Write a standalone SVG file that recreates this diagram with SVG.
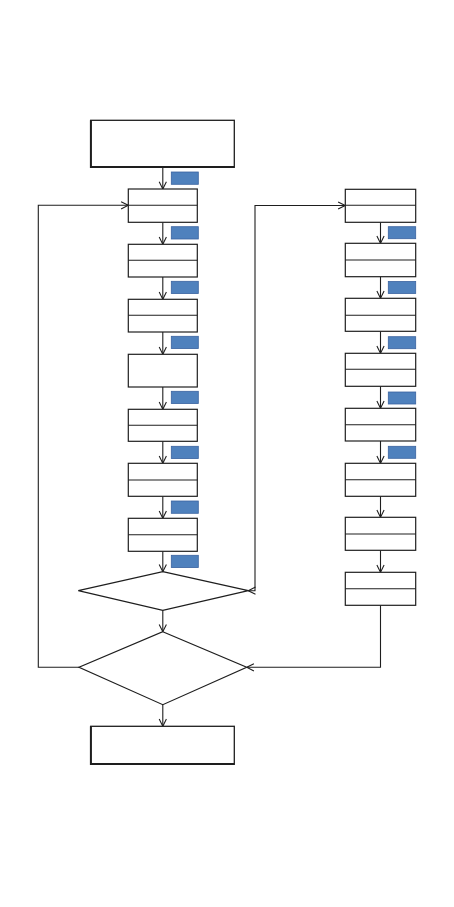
<svg xmlns="http://www.w3.org/2000/svg" width="454" height="907" viewBox="0 0 454 907">
<style>
.box{fill:#fff;stroke:#1e1e1e;stroke-width:1.2}
.big{fill:#fff;stroke:#1e1e1e;stroke-width:1.3}
.edge{fill:none;stroke:#1e1e1e;stroke-width:2}
.div{stroke:#1e1e1e;stroke-width:1.1}
.tag{fill:#4f81bd;stroke:#3a63a0;stroke-width:0.8}
.c{fill:none;stroke:#1e1e1e;stroke-width:1.1}
</style>
<defs>
<marker id="arr" viewBox="0 0 10 10" refX="10" refY="5" markerWidth="9" markerHeight="9" markerUnits="userSpaceOnUse" orient="auto-start-reverse">
<path d="M2,1 L10,5 L2,9" fill="none" stroke="#1e1e1e" stroke-width="1.2"/>
</marker>
</defs>
<rect width="454" height="907" fill="#fff"/>
<g id="connectors">
<line class="c" x1="162.8" y1="167.3" x2="162.8" y2="189" marker-end="url(#arr)"/>
<line class="c" x1="162.8" y1="222.3" x2="162.8" y2="244.3" marker-end="url(#arr)"/>
<line class="c" x1="162.8" y1="277" x2="162.8" y2="299.3" marker-end="url(#arr)"/>
<line class="c" x1="162.8" y1="332" x2="162.8" y2="354.3" marker-end="url(#arr)"/>
<line class="c" x1="162.8" y1="387" x2="162.8" y2="409.3" marker-end="url(#arr)"/>
<line class="c" x1="162.8" y1="441.3" x2="162.8" y2="463.3" marker-end="url(#arr)"/>
<line class="c" x1="162.8" y1="496.3" x2="162.8" y2="518.3" marker-end="url(#arr)"/>
<line class="c" x1="162.8" y1="551.3" x2="162.8" y2="571.7" marker-end="url(#arr)"/>
<line class="c" x1="162.8" y1="610.3" x2="162.8" y2="631.7" marker-end="url(#arr)"/>
<line class="c" x1="162.8" y1="704.7" x2="162.8" y2="726.3" marker-end="url(#arr)"/>
<line class="c" x1="380.5" y1="222.3" x2="380.5" y2="243.3" marker-end="url(#arr)"/>
<line class="c" x1="380.5" y1="276.7" x2="380.5" y2="298.3" marker-end="url(#arr)"/>
<line class="c" x1="380.5" y1="331.3" x2="380.5" y2="353.3" marker-end="url(#arr)"/>
<line class="c" x1="380.5" y1="386.3" x2="380.5" y2="408.3" marker-end="url(#arr)"/>
<line class="c" x1="380.5" y1="441" x2="380.5" y2="463.3" marker-end="url(#arr)"/>
<line class="c" x1="380.5" y1="496.3" x2="380.5" y2="517.3" marker-end="url(#arr)"/>
<line class="c" x1="380.5" y1="550.3" x2="380.5" y2="572.3" marker-end="url(#arr)"/>
<polyline class="c" points="79,667.3 38.3,667.3 38.3,205.3 128.3,205.3" marker-end="url(#arr)"/>
<polyline class="c" points="248.3,590.7 255,590.7 255,205.5 345.3,205.5" marker-start="url(#arr)" marker-end="url(#arr)"/>
<polyline class="c" points="380.5,605.3 380.5,667.3 246.7,667.3" marker-end="url(#arr)"/>
</g>
<g id="start"><rect class="big" x="90.7" y="120.3" width="143.6" height="47"/><polyline class="edge" points="90.9,120.3 90.9,167.1 234.3,167.1"/></g>
<g id="L1"><rect class="box" x="128.3" y="189" width="69" height="33.3"/><line class="div" x1="128.3" y1="205.3" x2="197.3" y2="205.3"/></g>
<g id="L2"><rect class="box" x="128.3" y="244.3" width="69" height="32.7"/><line class="div" x1="128.3" y1="260.3" x2="197.3" y2="260.3"/></g>
<g id="L3"><rect class="box" x="128.3" y="299.3" width="69" height="32.7"/><line class="div" x1="128.3" y1="315.3" x2="197.3" y2="315.3"/></g>
<g id="L4"><rect class="box" x="128.3" y="354.3" width="69" height="32.7"/></g>
<g id="L5"><rect class="box" x="128.3" y="409.3" width="69" height="32"/><line class="div" x1="128.3" y1="425.3" x2="197.3" y2="425.3"/></g>
<g id="L6"><rect class="box" x="128.3" y="463.3" width="69" height="33"/><line class="div" x1="128.3" y1="480" x2="197.3" y2="480"/></g>
<g id="L7"><rect class="box" x="128.3" y="518.3" width="69" height="33"/><line class="div" x1="128.3" y1="534.7" x2="197.3" y2="534.7"/></g>
<g id="R1"><rect class="box" x="345.3" y="189.3" width="70.4" height="33"/><line class="div" x1="345.3" y1="205.3" x2="415.7" y2="205.3"/></g>
<g id="R2"><rect class="box" x="345.3" y="243.3" width="70.4" height="33.4"/><line class="div" x1="345.3" y1="260" x2="415.7" y2="260"/></g>
<g id="R3"><rect class="box" x="345.3" y="298.3" width="70.4" height="33"/><line class="div" x1="345.3" y1="315.3" x2="415.7" y2="315.3"/></g>
<g id="R4"><rect class="box" x="345.3" y="353.3" width="70.4" height="33"/><line class="div" x1="345.3" y1="369.3" x2="415.7" y2="369.3"/></g>
<g id="R5"><rect class="box" x="345.3" y="408.3" width="70.4" height="32.7"/><line class="div" x1="345.3" y1="424.7" x2="415.7" y2="424.7"/></g>
<g id="R6"><rect class="box" x="345.3" y="463.3" width="70.4" height="33"/><line class="div" x1="345.3" y1="479.7" x2="415.7" y2="479.7"/></g>
<g id="R7"><rect class="box" x="345.3" y="517.3" width="70.4" height="33"/><line class="div" x1="345.3" y1="534" x2="415.7" y2="534"/></g>
<g id="R8"><rect class="box" x="345.3" y="572.3" width="70.4" height="33"/><line class="div" x1="345.3" y1="588.7" x2="415.7" y2="588.7"/></g>
<g id="D1"><polygon class="box" points="162.8,571.7 248.3,590.7 162.8,610.3 78.3,590.7"/></g>
<g id="D2"><polygon class="box" points="162.8,631.7 246.7,667.3 162.8,704.7 79,667.3"/></g>
<g id="end"><rect class="big" x="90.7" y="726.3" width="143.6" height="38"/><polyline class="edge" points="90.9,726.3 90.9,764.1 234.3,764.1"/></g>
<g id="tags">
<rect class="tag" x="171.3" y="172" width="27" height="12.3"/>
<rect class="tag" x="171.3" y="226.7" width="27" height="12.3"/>
<rect class="tag" x="171.3" y="281.3" width="27" height="12.3"/>
<rect class="tag" x="171.3" y="336.3" width="27" height="12.3"/>
<rect class="tag" x="171.3" y="391.3" width="27" height="12.3"/>
<rect class="tag" x="171.3" y="446.3" width="27" height="12.3"/>
<rect class="tag" x="171.3" y="501" width="27" height="12.3"/>
<rect class="tag" x="171.3" y="555.3" width="27" height="12.3"/>
<rect class="tag" x="388.3" y="226.7" width="27.4" height="12"/>
<rect class="tag" x="388.3" y="281.5" width="27.4" height="12"/>
<rect class="tag" x="388.3" y="336.7" width="27.4" height="12"/>
<rect class="tag" x="388.3" y="392" width="27.4" height="12"/>
<rect class="tag" x="388.3" y="446.3" width="27.4" height="12"/>
</g>
</svg>
